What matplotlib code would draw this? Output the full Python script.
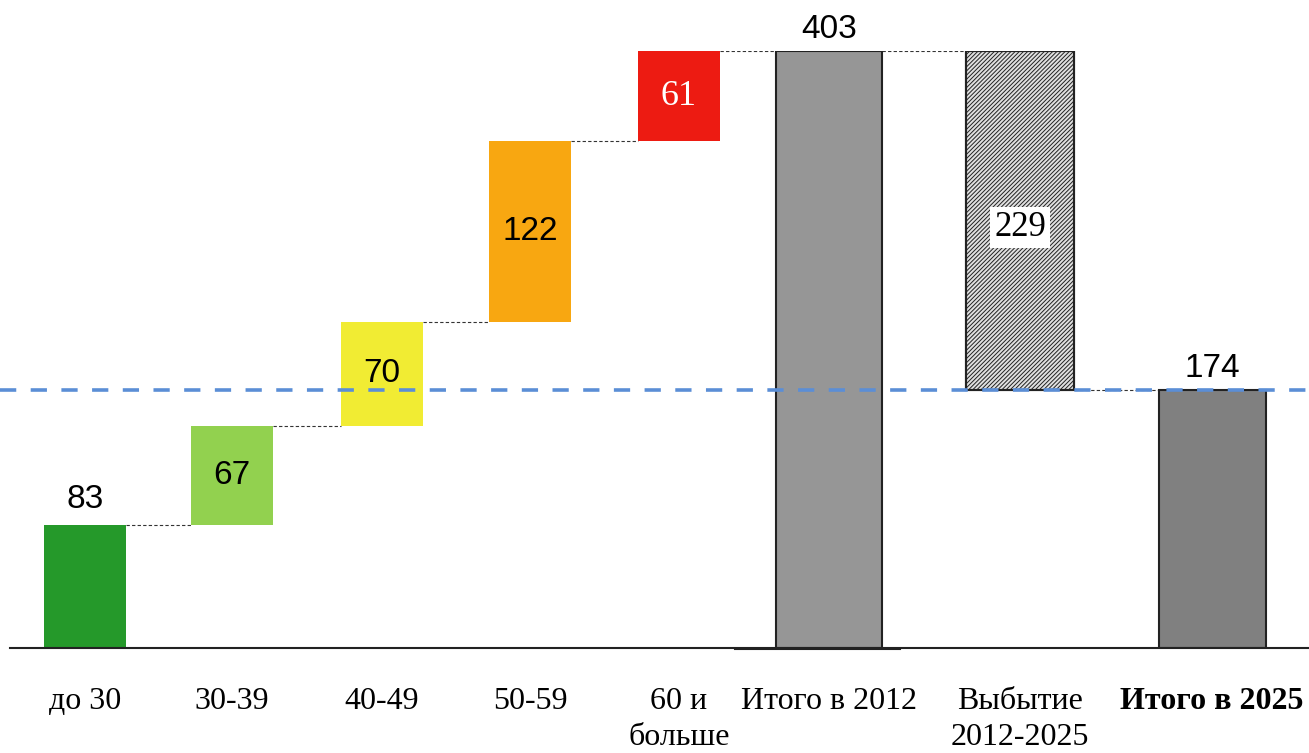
import matplotlib.pyplot as plt
import numpy as np

# data
categories = ["до 30", "30-39", "40-49", "50-59", "60 и\nбольше",
              "Итого в 2012", "Выбытие\n2012-2025", "Итого в 2025"]
steps = [83, 67, 70, 122, 61]
total_2012 = 403
retired = 229
total_2025 = 174

# layout (pixel-like x units)
xpos = [85, 232, 382, 530, 679, 829, 1020, 1212]
widths = [82, 82, 82, 82, 82, 106, 108, 107]
step_colors = ["#25992A", "#92D14F", "#F1EC33", "#F8A711", "#ED1B12"]

fig = plt.figure(figsize=(13.09, 7.53), dpi=100)
ax = fig.add_axes([0, (753 - 648) / 753, 1, (648 - 51) / 753])
ax.set_xlim(0, 1309)
ax.set_ylim(0, total_2012)
ax.axis("off")

# age groups
bottoms = np.concatenate([[0], np.cumsum(steps)[:-1]])
ax.bar(xpos[:5], steps, width=widths[:5], bottom=bottoms, color=step_colors, zorder=2)

# totals and retirement
ax.bar(xpos[5], total_2012, width=widths[5], color="#969696", edgecolor="#222222", lw=1.5, zorder=2)
plt.rcParams["hatch.linewidth"] = 0.7
plt.rcParams["hatch.color"] = "#555555"
ax.bar(xpos[6], retired, width=widths[6], bottom=total_2025, color="#E0E0E0",
       edgecolor="#222222", hatch="////////", lw=1.5, zorder=2)
ax.bar(xpos[6], retired, width=widths[6], bottom=total_2025, color="none",
       edgecolor="#222222", lw=1.5, zorder=2)
ax.bar(xpos[7], total_2025, width=widths[7], color="#808080", edgecolor="#222222", lw=1.5, zorder=2)

# connectors
tops = list(np.cumsum(steps)) + [total_2012, total_2025]
for i in range(6):
    x0 = xpos[i] + widths[i] / 2
    x1 = xpos[i + 1] - widths[i + 1] / 2
    ax.plot([x0, x1], [tops[i], tops[i]], color="#333333", lw=0.8, ls=(0, (3, 2)), zorder=1)
ax.plot([xpos[6] + widths[6] / 2, xpos[7] - widths[7] / 2], [total_2025, total_2025],
        color="#333333", lw=0.8, ls=(0, (3, 2)), zorder=1)

# axis line
ax.plot([10, 1309], [0, 0], color="#222222", lw=1.5, clip_on=False, zorder=3)
ax.plot([735, 900], [-0.8, -0.8], color="#222222", lw=1.5, clip_on=False, zorder=3)

# 2025 level line
ax.axhline(total_2025, color="#5B8ED6", lw=2.6, dashes=(4.5, 4), zorder=4)

# value labels
sans = "Liberation Sans"
serif = "Liberation Serif"
ax.text(xpos[0], steps[0] + 7, "83", ha="center", va="bottom", fontsize=24, family=sans)
for i in [1, 2, 3]:
    ax.text(xpos[i], bottoms[i] + steps[i] / 2, str(steps[i]), ha="center", va="center",
            fontsize=24, family=sans, zorder=5)
ax.text(xpos[4], bottoms[4] + steps[4] / 2, str(steps[4]), ha="center", va="center",
        fontsize=26, family=serif, color="white", zorder=5)
ax.text(xpos[5], total_2012 + 4, str(total_2012), ha="center", va="bottom", fontsize=24,
        family=sans, clip_on=False)
ax.text(xpos[6], 284, str(retired), ha="center", va="center", fontsize=25, family=serif,
        zorder=5, bbox=dict(facecolor="white", edgecolor="none", pad=3))
ax.text(xpos[7], total_2025 + 4, str(total_2025), ha="center", va="bottom", fontsize=24,
        family=sans, zorder=5)

# category labels
for i, lab in enumerate(categories):
    ax.text(xpos[i], -26, lab, ha="center", va="top", fontsize=23, family=serif,
            linespacing=1.33, fontweight="bold" if i == 7 else "normal", clip_on=False)

fig.savefig("out.png", dpi=100)
